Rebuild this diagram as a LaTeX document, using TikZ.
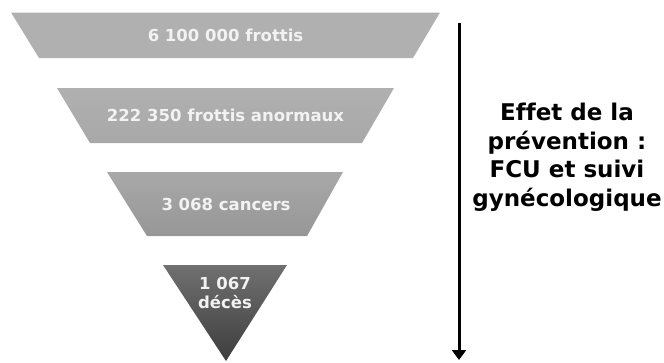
\documentclass[tikz,border=0pt]{standalone}
\usepackage{fontspec}
\setmainfont{DejaVu Sans}[Ligatures=NoCommon]
\usetikzlibrary{arrows.meta}
\begin{document}
\begin{tikzpicture}[x=1pt,y=-1pt,
  lbl/.style={text=white!95!black,font=\bfseries\fontsize{16.5}{19}\selectfont,align=center,inner sep=0pt},
  side/.style={text=black,font=\bfseries\fontsize{23}{28.5}\selectfont,align=center,inner sep=0pt}]
\useasboundingbox (0,0) rectangle (664,362);

% funnel slices, widest on top
\shade[top color=black!31,bottom color=black!31]
  (11,12.5) -- (440,12.5) -- (413,58) -- (39,58) -- cycle;
\shade[top color=black!31,bottom color=black!34]
  (57,88) -- (394,88) -- (362,143) -- (90,143) -- cycle;
\shade[top color=black!34,bottom color=black!41]
  (107,172) -- (343,172) -- (307,236) -- (147,236) -- cycle;
\shade[top color=black!56,bottom color=black!76]
  (163,265) -- (287,265) -- (226,361) -- cycle;

\node[lbl] (n1) at (225.5,35.3) {6 100 000 frottis};
\node[lbl] (n2) at (225.5,115.5) {222 350 frottis anormaux};
\node[lbl] (n3) at (226,204) {3 068 cancers};
\node[lbl] (n4) at (225,293) {1 067\\décès};

% prevention arrow
\coordinate (a0) at (459,23);
\coordinate (a1) at (459,360);
\draw[line width=3pt,-{Stealth[length=10pt,width=14pt,inset=0pt]}] (a0) -- (a1);

\node[side] (eff) at (567,157) {Effet de la\\prévention :\\FCU et suivi\\gynécologique};
\end{tikzpicture}
\end{document}
